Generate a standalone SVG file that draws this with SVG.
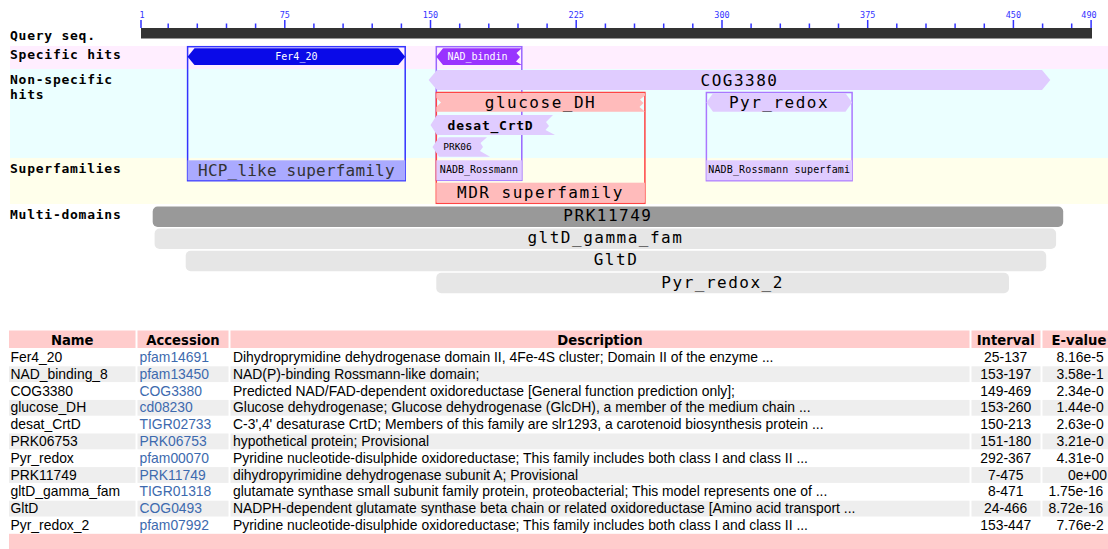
<svg xmlns="http://www.w3.org/2000/svg" width="1108" height="549" viewBox="0 0 1108 549">
  <style>
    .lbl { font-family: "DejaVu Sans Mono", monospace; font-weight: bold; font-size: 13px; letter-spacing: .75px; fill: #000; }
    .tk { font-family: "DejaVu Sans Mono", monospace; font-size: 8.5px; fill: #3333ff; text-anchor: middle; }
    .big { font-family: "DejaVu Sans Mono", monospace; font-size: 16px; letter-spacing: 1.5px; text-anchor: middle; fill: #000; }
    .sm { font-family: "DejaVu Sans Mono", monospace; font-size: 10px; text-anchor: middle; fill: #000; }
    .th { font-family: "DejaVu Sans", Verdana, sans-serif; font-weight: bold; font-size: 13.2px; text-anchor: middle; fill: #000; }
    .td { font-family: "Liberation Sans", Arial, sans-serif; font-size: 13.9px; fill: #000; }
    .acc { fill: #3d6aae; }
    .mid { text-anchor: middle; }
    .lav { fill: #e0ccff; }
    .rose { fill: #ffbbbb; }
    .md { fill: #e6e6e6; }
    .hdr { fill: #ffcccc; }
    .alt { fill: #eeeeee; }
  </style>

  <rect width="1108" height="549" fill="#ffffff"/>

  <!-- track background bands -->
  <g id="bands">
    <rect x="10" y="46" width="1098" height="23" fill="#ffeeff"/>
    <rect x="10" y="69" width="1098" height="89" fill="#ebffff"/>
    <rect x="10" y="158" width="1098" height="46" fill="#ffffeb"/>
  </g>

  <!-- track titles -->
  <g id="track-labels">
    <text class="lbl" x="10" y="40">Query seq.</text>
    <text class="lbl" x="10" y="58.5">Specific hits</text>
    <text class="lbl" x="10" y="83.5">Non-specific</text>
    <text class="lbl" x="10" y="98.5">hits</text>
    <text class="lbl" x="10" y="173">Superfamilies</text>
    <text class="lbl" x="10" y="218.5">Multi-domains</text>
  </g>

  <!-- sequence ruler: 1..490 mapped to x = 141 + (r-1)*1.943 -->
  <g id="ruler">
    <rect x="141" y="28" width="951" height="10.5" fill="#333333"/>
    <path stroke="#3333ff" stroke-width="1.5" fill="none"
      d="M141,20V28 M284.8,20V28 M430.5,20V28 M576.2,20V28 M722,20V28 M867.7,20V28 M1013.4,20V28 M1091.1,20V28
         M168.2,23.5V28 M197.3,23.5V28 M226.5,23.5V28 M255.6,23.5V28 M313.9,23.5V28 M343.1,23.5V28 M372.2,23.5V28 M401.4,23.5V28
         M459.7,23.5V28 M488.8,23.5V28 M518,23.5V28 M547.1,23.5V28 M605.4,23.5V28 M634.5,23.5V28 M663.7,23.5V28 M692.8,23.5V28
         M751.1,23.5V28 M780.3,23.5V28 M809.4,23.5V28 M838.5,23.5V28 M896.8,23.5V28 M926,23.5V28 M955.1,23.5V28 M984.3,23.5V28
         M1042.6,23.5V28 M1071.7,23.5V28"/>
    <text class="tk" x="139.5" y="18" style="text-anchor:start">1</text>
    <text class="tk" x="284.8" y="18">75</text>
    <text class="tk" x="430.5" y="18">150</text>
    <text class="tk" x="576.2" y="18">225</text>
    <text class="tk" x="722" y="18">300</text>
    <text class="tk" x="867.7" y="18">375</text>
    <text class="tk" x="1013.4" y="18">450</text>
    <text class="tk" x="1089" y="18">490</text>
  </g>

  <!-- hit frames (drawn beneath the bars) -->
  <g id="frames" fill="none" stroke-width="1.5">
    <rect x="187.6" y="46.7" width="217.6" height="134" stroke="#3333ff"/>
    <rect x="436.3" y="46.7" width="85.5" height="133.6" stroke="#9966ff"/>
    <rect x="436.3" y="92.5" width="208.6" height="110.8" stroke="#ff4444"/>
    <rect x="706.4" y="92.5" width="145.7" height="88.2" stroke="#aa77ff"/>
  </g>

  <g id="hit-Fer4_20">
    <polygon points="187.6,56.7 194.5,48.3 398.3,48.3 405.2,56.7 398.3,65 194.5,65" fill="#0a0ae8"/>
    <text class="sm" x="296.4" y="60.2" style="fill:#ffffff">Fer4_20</text>
  </g>

  <g id="hit-NAD_binding_8">
    <polygon points="436.3,56.7 443,48.3 521.8,48.3 516.5,53 520,57 516,61.5 521.8,65 443,65" fill="#9933ff"/>
    <text class="sm" x="477.5" y="60" style="fill:#ffffff">NAD_bindin</text>
  </g>

  <g id="hit-COG3380">
    <polygon class="lav" points="428.6,80 437,70 1042,70 1050.3,80 1042,90 437,90"/>
    <text class="big" x="739.5" y="85.5">COG3380</text>
  </g>

  <g id="hit-glucose_DH">
    <polygon class="rose" points="436.3,93.3 645,93.3 645,95.5 640,99.5 643.5,103 639.5,107 645,111.7 436.3,111.7 436.3,107 441,102.5 436.3,98"/>
    <text class="big" x="540.5" y="107.7">glucose_DH</text>
  </g>

  <g id="hit-desat_CrtD">
    <polygon class="lav" points="430.5,125 437,115 553,115 546,122 549,126 545.5,130 555,135 437,135"/>
    <text class="lbl mid" x="490.5" y="129.5">desat_CrtD</text>
  </g>

  <g id="hit-PRK06753">
    <polygon class="lav" points="432.5,147 439,137.3 487,137.3 480.5,143 483,147 480,151 490,156.7 439,156.7"/>
    <text class="sm" x="457.5" y="149.5" style="font-size:9.5px">PRK06</text>
  </g>

  <g id="hit-Pyr_redox">
    <polygon class="lav" points="706.4,102.5 713,93.3 845.5,93.3 852.1,102.5 845.5,111.7 713,111.7"/>
    <text class="big" x="779" y="107.7">Pyr_redox</text>
  </g>

  <!-- superfamily bars -->
  <g id="sf-HCP_like">
    <rect x="187.6" y="160.3" width="217.6" height="20" fill="#aaaaff"/>
    <text class="big" x="296.4" y="175.5" style="letter-spacing:.2px;fill:#333333">HCP_like superfamily</text>
  </g>
  <g id="sf-NADB_Rossmann-1">
    <rect class="lav" x="436.3" y="160.3" width="85.5" height="20"/>
    <text class="sm" x="479" y="173">NADB_Rossmann</text>
  </g>
  <g id="sf-NADB_Rossmann-2">
    <rect class="lav" x="706.4" y="160.3" width="145.7" height="20"/>
    <text class="sm" x="779.2" y="173" style="letter-spacing:.15px">NADB_Rossmann superfami</text>
  </g>
  <g id="sf-MDR">
    <rect class="rose" x="436.3" y="182.7" width="208.6" height="20"/>
    <text class="big" x="540.5" y="197.5">MDR superfamily</text>
  </g>

  <!-- multi-domain models -->
  <g id="md-PRK11749">
    <rect x="152.7" y="206.5" width="910.5" height="20.5" rx="5" fill="#999999"/>
    <text class="big" x="607.9" y="221">PRK11749</text>
  </g>
  <g id="md-gltD_gamma_fam">
    <rect class="md" x="154.6" y="228.5" width="901.5" height="20.5" rx="5"/>
    <text class="big" x="605.4" y="243">gltD_gamma_fam</text>
  </g>
  <g id="md-GltD">
    <rect class="md" x="185.7" y="250.7" width="860.5" height="20.5" rx="5"/>
    <text class="big" x="616" y="265.2">GltD</text>
  </g>
  <g id="md-Pyr_redox_2">
    <rect class="md" x="436.3" y="272.8" width="572.7" height="20.5" rx="5"/>
    <text class="big" x="722.6" y="287.5">Pyr_redox_2</text>
  </g>

  <!-- hit table -->
  <g id="table">
    <g id="table-header">
      <rect class="hdr" x="9" y="330.5" width="126.5" height="17.5"/>
      <rect class="hdr" x="137.5" y="330.5" width="91" height="17.5"/>
      <rect class="hdr" x="230.5" y="330.5" width="739" height="17.5"/>
      <rect class="hdr" x="971.5" y="330.5" width="69" height="17.5"/>
      <rect class="hdr" x="1042.5" y="330.5" width="70" height="17.5"/>
      <text class="th" x="72.2" y="345">Name</text>
      <text class="th" x="183" y="345">Accession</text>
      <text class="th" x="600" y="345">Description</text>
      <text class="th" x="1005.7" y="345">Interval</text>
      <text class="th" x="1079" y="345">E-value</text>
    </g>

    <g id="table-shading">
      <rect class="alt" x="9" y="366.3" width="126.5" height="15.8"/>
      <rect class="alt" x="137.5" y="366.3" width="91" height="15.8"/>
      <rect class="alt" x="230.5" y="366.3" width="739" height="15.8"/>
      <rect class="alt" x="971.5" y="366.3" width="69" height="15.8"/>
      <rect class="alt" x="1042.5" y="366.3" width="70" height="15.8"/>

      <rect class="alt" x="9" y="399.9" width="126.5" height="15.8"/>
      <rect class="alt" x="137.5" y="399.9" width="91" height="15.8"/>
      <rect class="alt" x="230.5" y="399.9" width="739" height="15.8"/>
      <rect class="alt" x="971.5" y="399.9" width="69" height="15.8"/>
      <rect class="alt" x="1042.5" y="399.9" width="70" height="15.8"/>

      <rect class="alt" x="9" y="433.5" width="126.5" height="15.8"/>
      <rect class="alt" x="137.5" y="433.5" width="91" height="15.8"/>
      <rect class="alt" x="230.5" y="433.5" width="739" height="15.8"/>
      <rect class="alt" x="971.5" y="433.5" width="69" height="15.8"/>
      <rect class="alt" x="1042.5" y="433.5" width="70" height="15.8"/>

      <rect class="alt" x="9" y="467.1" width="126.5" height="15.8"/>
      <rect class="alt" x="137.5" y="467.1" width="91" height="15.8"/>
      <rect class="alt" x="230.5" y="467.1" width="739" height="15.8"/>
      <rect class="alt" x="971.5" y="467.1" width="69" height="15.8"/>
      <rect class="alt" x="1042.5" y="467.1" width="70" height="15.8"/>

      <rect class="alt" x="9" y="500.7" width="126.5" height="15.8"/>
      <rect class="alt" x="137.5" y="500.7" width="91" height="15.8"/>
      <rect class="alt" x="230.5" y="500.7" width="739" height="15.8"/>
      <rect class="alt" x="971.5" y="500.7" width="69" height="15.8"/>
      <rect class="alt" x="1042.5" y="500.7" width="70" height="15.8"/>

      <rect class="hdr" x="9" y="533.8" width="1103" height="16"/>
    </g>

    <g id="table-names" class="td">
      <text x="10.5" y="362">Fer4_20</text>
      <text x="10.5" y="378.8">NAD_binding_8</text>
      <text x="10.5" y="395.6">COG3380</text>
      <text x="10.5" y="412.4">glucose_DH</text>
      <text x="10.5" y="429.2">desat_CrtD</text>
      <text x="10.5" y="446">PRK06753</text>
      <text x="10.5" y="462.8">Pyr_redox</text>
      <text x="10.5" y="479.6">PRK11749</text>
      <text x="10.5" y="496.4">gltD_gamma_fam</text>
      <text x="10.5" y="513.2">GltD</text>
      <text x="10.5" y="530">Pyr_redox_2</text>
    </g>

    <g id="table-accessions" class="td acc">
      <text x="139.5" y="362">pfam14691</text>
      <text x="139.5" y="378.8">pfam13450</text>
      <text x="139.5" y="395.6">COG3380</text>
      <text x="139.5" y="412.4">cd08230</text>
      <text x="139.5" y="429.2">TIGR02733</text>
      <text x="139.5" y="446">PRK06753</text>
      <text x="139.5" y="462.8">pfam00070</text>
      <text x="139.5" y="479.6">PRK11749</text>
      <text x="139.5" y="496.4">TIGR01318</text>
      <text x="139.5" y="513.2">COG0493</text>
      <text x="139.5" y="530">pfam07992</text>
    </g>

    <g id="table-descriptions" class="td">
      <text x="233" y="362">Dihydroprymidine dehydrogenase domain II, 4Fe-4S cluster; Domain II of the enzyme ...</text>
      <text x="233" y="378.8">NAD(P)-binding Rossmann-like domain;</text>
      <text x="233" y="395.6">Predicted NAD/FAD-dependent oxidoreductase [General function prediction only];</text>
      <text x="233" y="412.4">Glucose dehydrogenase; Glucose dehydrogenase (GlcDH), a member of the medium chain ...</text>
      <text x="233" y="429.2">C-3',4' desaturase CrtD; Members of this family are slr1293, a carotenoid biosynthesis protein ...</text>
      <text x="233" y="446">hypothetical protein; Provisional</text>
      <text x="233" y="462.8">Pyridine nucleotide-disulphide oxidoreductase; This family includes both class I and class II ...</text>
      <text x="233" y="479.6">dihydropyrimidine dehydrogenase subunit A; Provisional</text>
      <text x="233" y="496.4">glutamate synthase small subunit family protein, proteobacterial; This model represents one of ...</text>
      <text x="233" y="513.2">NADPH-dependent glutamate synthase beta chain or related oxidoreductase [Amino acid transport ...</text>
      <text x="233" y="530">Pyridine nucleotide-disulphide oxidoreductase; This family includes both class I and class II ...</text>
    </g>

    <g id="table-intervals" class="td mid">
      <text x="1005.7" y="362">25-137</text>
      <text x="1005.7" y="378.8">153-197</text>
      <text x="1005.7" y="395.6">149-469</text>
      <text x="1005.7" y="412.4">153-260</text>
      <text x="1005.7" y="429.2">150-213</text>
      <text x="1005.7" y="446">151-180</text>
      <text x="1005.7" y="462.8">292-367</text>
      <text x="1005.7" y="479.6">7-475</text>
      <text x="1005.7" y="496.4">8-471</text>
      <text x="1005.7" y="513.2">24-466</text>
      <text x="1005.7" y="530">153-447</text>
    </g>

    <g id="table-evalues" class="td">
      <text x="1056.5" y="362">8.16e-5</text>
      <text x="1056.5" y="378.8">3.58e-1</text>
      <text x="1056.5" y="395.6">2.34e-0</text>
      <text x="1056.5" y="412.4">1.44e-0</text>
      <text x="1056.5" y="429.2">2.63e-0</text>
      <text x="1056.5" y="446">3.21e-0</text>
      <text x="1056.5" y="462.8">4.31e-0</text>
      <text x="1068" y="479.6">0e+00</text>
      <text x="1048.5" y="496.4">1.75e-16</text>
      <text x="1048.5" y="513.2">8.72e-16</text>
      <text x="1056.5" y="530">7.76e-2</text>
    </g>
  </g>
</svg>
